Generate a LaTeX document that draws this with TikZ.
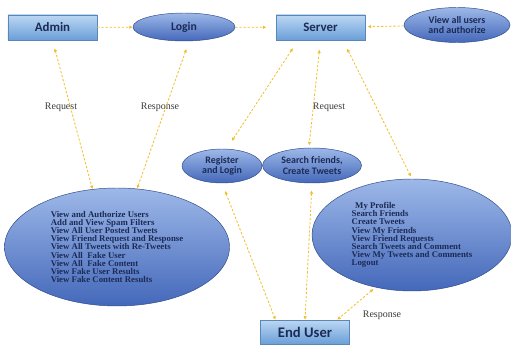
\documentclass[tikz,border=0pt]{standalone}
\usepackage{fontspec}
\setmainfont{Liberation Serif}
\newfontfamily\boxfont{Carlito}
\usetikzlibrary{arrows.meta,shapes.geometric,calc}
\definecolor{flowc}{HTML}{F0C02C}
\definecolor{navy}{HTML}{1C2B55}
\definecolor{boxtop}{HTML}{BCD7F3}
\definecolor{boxbot}{HTML}{6A9FD8}
\definecolor{boxline}{HTML}{5A86B8}
\definecolor{ovaltop}{HTML}{9DB8E8}
\definecolor{ovalbot}{HTML}{4468BA}
\definecolor{ovalline}{HTML}{2E4A86}
\definecolor{labc}{HTML}{3A3A3A}
\begin{document}
\begin{tikzpicture}[x=0.03cm,y=-0.03cm,
    box/.style={draw=boxline,top color=boxtop,bottom color=boxbot,
      font=\boxfont\bfseries\fontsize{11}{12}\selectfont\color{navy},
      minimum width=2.67cm,minimum height=0.75cm},
    oval/.style={ellipse,draw=ovalline,top color=ovaltop,bottom color=ovalbot,
      inner sep=0pt,align=center,
      font=\boxfont\bfseries\fontsize{8.5}{9}\selectfont\color{navy}},
    list/.style={oval,align=left,font=\bfseries\fontsize{7.5}{6.9}\selectfont\color{navy}},
    flow/.style={draw=flowc,line width=0.7pt,dash pattern=on 2pt off 1.5pt},
    both/.style={flow,{Latex[length=3pt,width=3pt]}-{Latex[length=3pt,width=3pt]}},
    lab/.style={font=\fontsize{8.5}{9}\selectfont\color{labc}}]
  \useasboundingbox (0,0) rectangle (511,345);

  \node[box] (Admin) at (52.5,27.5) {Admin};
  \node[oval,minimum width=3.06cm,minimum height=0.84cm,font=\boxfont\bfseries\fontsize{10}{11}\selectfont\color{navy}] (Login) at (184,27) {Login};
  \node[box] (Server) at (320.5,27.5) {Server};
  \node[oval,minimum width=3.18cm,minimum height=1.05cm] (View) at (457,25) {View all users\\and authorize};
  \node[oval,minimum width=2.4cm,minimum height=1.02cm] (Register) at (222,166) {Register\\and Login};
  \node[oval,minimum width=2.97cm,minimum height=1.05cm] (Search) at (312,165.5) {Search friends,\\Create Tweets};
  \node[list,minimum width=6.75cm,minimum height=3.54cm] (AdminList) at (117,247) {View and Authorize Users\\Add and View Spam Filters\\View All User Posted Tweets\\View Friend Request and Response\\View All Tweets with Re-Tweets\\View All~ Fake User\\View All~ Fake Content\\View Fake User Results\\View Fake Content Results};
  \node[list,minimum width=6cm,minimum height=3.36cm] (UserList) at (412,235) {\hspace{3pt}My Profile\\Search Friends\\Create Tweets\\View My Friends\\View Friend Requests\\Search Tweets and Comment\\View My Tweets and Comments\\Logout};
  \node[box,minimum height=0.72cm,font=\boxfont\bfseries\fontsize{12.5}{13}\selectfont\color{navy}] (EndUser) at (305,332) {End User};

  \node[lab] (ReqA) at (61,107) {Request};
  \node[lab] (RespA) at (160,107) {Response};
  \node[lab] (ReqS) at (329,107) {Request};
  \node[lab] (RespU) at (382,315) {Response};

  % top row
  \draw[flow,-{Latex[length=3pt,width=3pt]}] (Admin) -- (Login);
  \draw[flow,-{Latex[length=3pt,width=3pt]},shorten >=8pt] (Login) -- (Server);
  \draw[flow,-{Latex[length=3pt,width=3pt]},shorten >=2pt] (View) -- (Server);

  % admin side
  \draw[both,shorten <=7pt] (Admin.south) -- (AdminList.113);
  \draw[both,shorten <=7pt] (Login.-70) -- (AdminList.71);

  % server side
  \draw[both,shorten <=8pt,shorten >=8pt] ($(Server.south west)!0.25!(Server.south east)$) -- (Register.75);
  \draw[both,shorten <=8pt,shorten >=2pt] (Server.south) -- (Search.100);
  \draw[both,shorten <=8pt,shorten >=2pt] ($(Server.south west)!0.75!(Server.south east)$) -- (UserList.north);

  % end user side
  \draw[both,shorten <=7pt] (Register.south) -- ($(EndUser.north west)!0.17!(EndUser.north east)$);
  \draw[both,shorten <=6pt] (Search.south) -- (EndUser.north);
  \draw[both,shorten <=2pt] (UserList.235) -- ($(EndUser.north west)!0.86!(EndUser.north east)$);
\end{tikzpicture}
\end{document}
